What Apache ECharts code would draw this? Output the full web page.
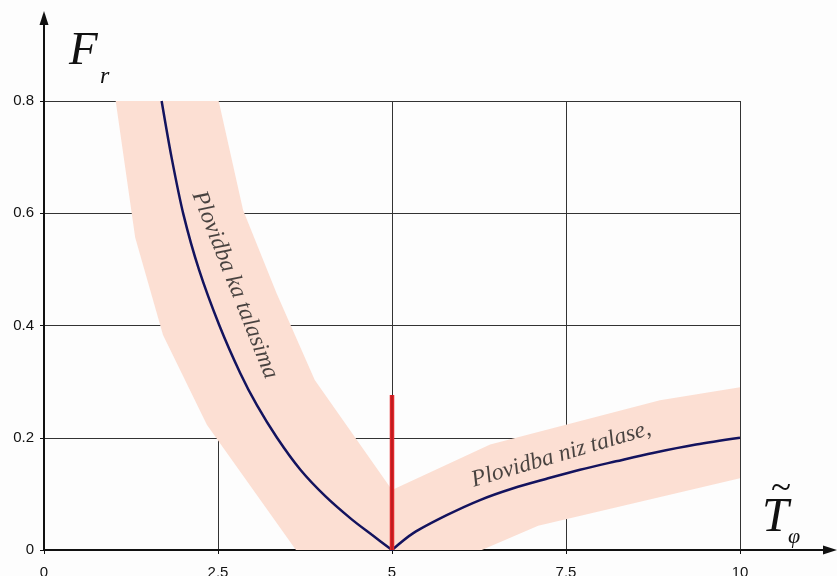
<!DOCTYPE html>
<html>
<head>
<meta charset="utf-8">
<script src="https://cdn.jsdelivr.net/npm/echarts@6/dist/echarts.min.js"></script>
<style>
  html, body { margin: 0; padding: 0; background: #fdfdfd; }
  #main { width: 837px; height: 576px; }
</style>
</head>
<body>
<div id="main"></div>
<script>
// tick labels
var xTicks = [0, 2.5, 5, 7.5, 10];
var yTicks = [0, 0.2, 0.4, 0.6, 0.8];

// main curves
var curveHeadSea = [[1.69, 0.8], [1.832, 0.7], [2.003, 0.598], [2.228, 0.499], [2.52, 0.4], [2.82, 0.315], [3.059, 0.258], [3.348, 0.2], [3.684, 0.143], [4.049, 0.095], [4.417, 0.055], [4.711, 0.027], [5, 0]];
var curveFollowSea = [[5, 0], [5.306, 0.03], [5.786, 0.062], [6.264, 0.089], [6.743, 0.11], [7.223, 0.127], [7.701, 0.143], [8.218, 0.158], [8.75, 0.173], [9.368, 0.188], [10, 0.2]];

// shaded band edges
var leftBandLeftEdge = [[1.03, 0.8], [1.31, 0.557], [1.71, 0.383], [2.34, 0.223], [3.62, 0]];
var rightBandLowerEdge = [[6.29, 0], [7.1, 0.043], [10, 0.128]];
var rightBandUpperEdge = [[10, 0.29], [8.85, 0.267], [6.41, 0.188], [5, 0.107]];
var leftBandRightEdge = [[3.89, 0.303], [3.34, 0.458], [2.86, 0.606], [2.51, 0.8]];

// red marker at T = 5
var redMarker = [[5, 0], [5, 0.276]];

// curve annotations: [x, y, text, angle]
var noteHeadSea = [2.74, 0.472, 'Plovidba ka talasima', -68.4];
var noteFollowSea = [7.43, 0.17, 'Plovidba niz talase,', 16.4];

var bandOutline = leftBandLeftEdge.concat(rightBandLowerEdge, rightBandUpperEdge, leftBandRightEdge);

var chart = echarts.init(document.getElementById('main'));

function noteSeries(note) {
  return {
    type: 'scatter',
    z: 6,
    silent: true,
    symbolSize: 0,
    data: [[note[0], note[1]]],
    label: {
      show: true,
      position: 'inside',
      rotate: note[3],
      formatter: note[2],
      fontFamily: 'Liberation Serif',
      fontStyle: 'italic',
      fontSize: 23.5,
      color: '#1a1a1a'
    }
  };
}

chart.setOption({
  animation: false,
  backgroundColor: '#fdfdfd',
  grid: { left: 44, right: 97, top: 101, bottom: 26, outerBoundsMode: 'none', containLabel: false },
  xAxis: {
    type: 'value',
    min: 0,
    max: 10,
    interval: 2.5,
    axisLine: { lineStyle: { color: '#111', width: 2 } },
    axisTick: { show: true, length: 4, lineStyle: { color: '#111' } },
    axisLabel: {
      color: '#111', fontSize: 15, fontFamily: 'Liberation Sans', margin: 15,
      formatter: function (v) { return xTicks.indexOf(v) >= 0 ? String(v) : ''; }
    },
    splitLine: { show: true, lineStyle: { color: '#333', width: 1 } }
  },
  yAxis: {
    type: 'value',
    min: 0,
    max: 0.8,
    interval: 0.2,
    axisLine: { show: true, lineStyle: { color: '#111', width: 2 } },
    axisTick: { show: true, length: 4, lineStyle: { color: '#111' } },
    axisLabel: {
      color: '#111', fontSize: 15, fontFamily: 'Liberation Sans', margin: 10,
      formatter: function (v) {
        var t = yTicks.filter(function (y) { return Math.abs(y - v) < 1e-9; });
        return t.length ? String(Math.round(t[0] * 10) / 10) : '';
      }
    },
    splitLine: { show: true, lineStyle: { color: '#333', width: 1 } }
  },
  series: [
    {
      type: 'custom',
      z: 1,
      silent: true,
      data: [0],
      renderItem: function (params, api) {
        var pts = bandOutline.map(function (p) { return api.coord(p); });
        return {
          type: 'polygon',
          shape: { points: pts },
          style: { fill: '#fcdfd3', stroke: null }
        };
      }
    },
    {
      type: 'line',
      z: 3,
      data: curveHeadSea,
      smooth: 0.3,
      showSymbol: false,
      lineStyle: { color: '#13135e', width: 2.5 }
    },
    {
      type: 'line',
      z: 3,
      data: curveFollowSea,
      smooth: 0.3,
      showSymbol: false,
      lineStyle: { color: '#13135e', width: 2.5 }
    },
    {
      type: 'line',
      z: 4,
      data: redMarker,
      showSymbol: false,
      lineStyle: { color: '#e3262b', width: 4.5 }
    },
    {
      type: 'line',
      z: 5,
      data: redMarker,
      showSymbol: false,
      lineStyle: { color: '#9e1414', width: 1 }
    },
    noteSeries(noteHeadSea),
    noteSeries(noteFollowSea)
  ],
  graphic: [
    // axis extensions with arrows
    { type: 'line', shape: { x1: 44, y1: 101, x2: 44, y2: 22 }, style: { stroke: '#111', lineWidth: 2 } },
    { type: 'polygon', shape: { points: [[44, 11], [39.5, 25], [48.5, 25]] }, style: { fill: '#111' } },
    { type: 'line', shape: { x1: 740, y1: 550, x2: 826, y2: 550 }, style: { stroke: '#111', lineWidth: 2 } },
    { type: 'polygon', shape: { points: [[837, 550], [823, 545.5], [823, 554.5]] }, style: { fill: '#111' } },
    // axis titles
    {
      type: 'text', left: 69, top: 28,
      style: { text: 'F', fontFamily: 'Liberation Serif', fontStyle: 'italic', fontSize: 47, fill: '#111' }
    },
    {
      type: 'text', left: 100, top: 65,
      style: { text: 'r', fontFamily: 'Liberation Serif', fontStyle: 'italic', fontSize: 24, fill: '#111' }
    },
    {
      type: 'text', left: 762, top: 494,
      style: { text: 'T', fontFamily: 'Liberation Serif', fontStyle: 'italic', fontSize: 48, fill: '#111' }
    },
    {
      type: 'text', left: 771, top: 471,
      style: { text: '~', fontFamily: 'Liberation Serif', fontSize: 37, fill: '#111' }
    },
    {
      type: 'text', left: 788, top: 526,
      style: { text: 'φ', fontFamily: 'Liberation Serif', fontStyle: 'italic', fontSize: 22, fill: '#111' }
    }
  ]
});
</script>
</body>
</html>
